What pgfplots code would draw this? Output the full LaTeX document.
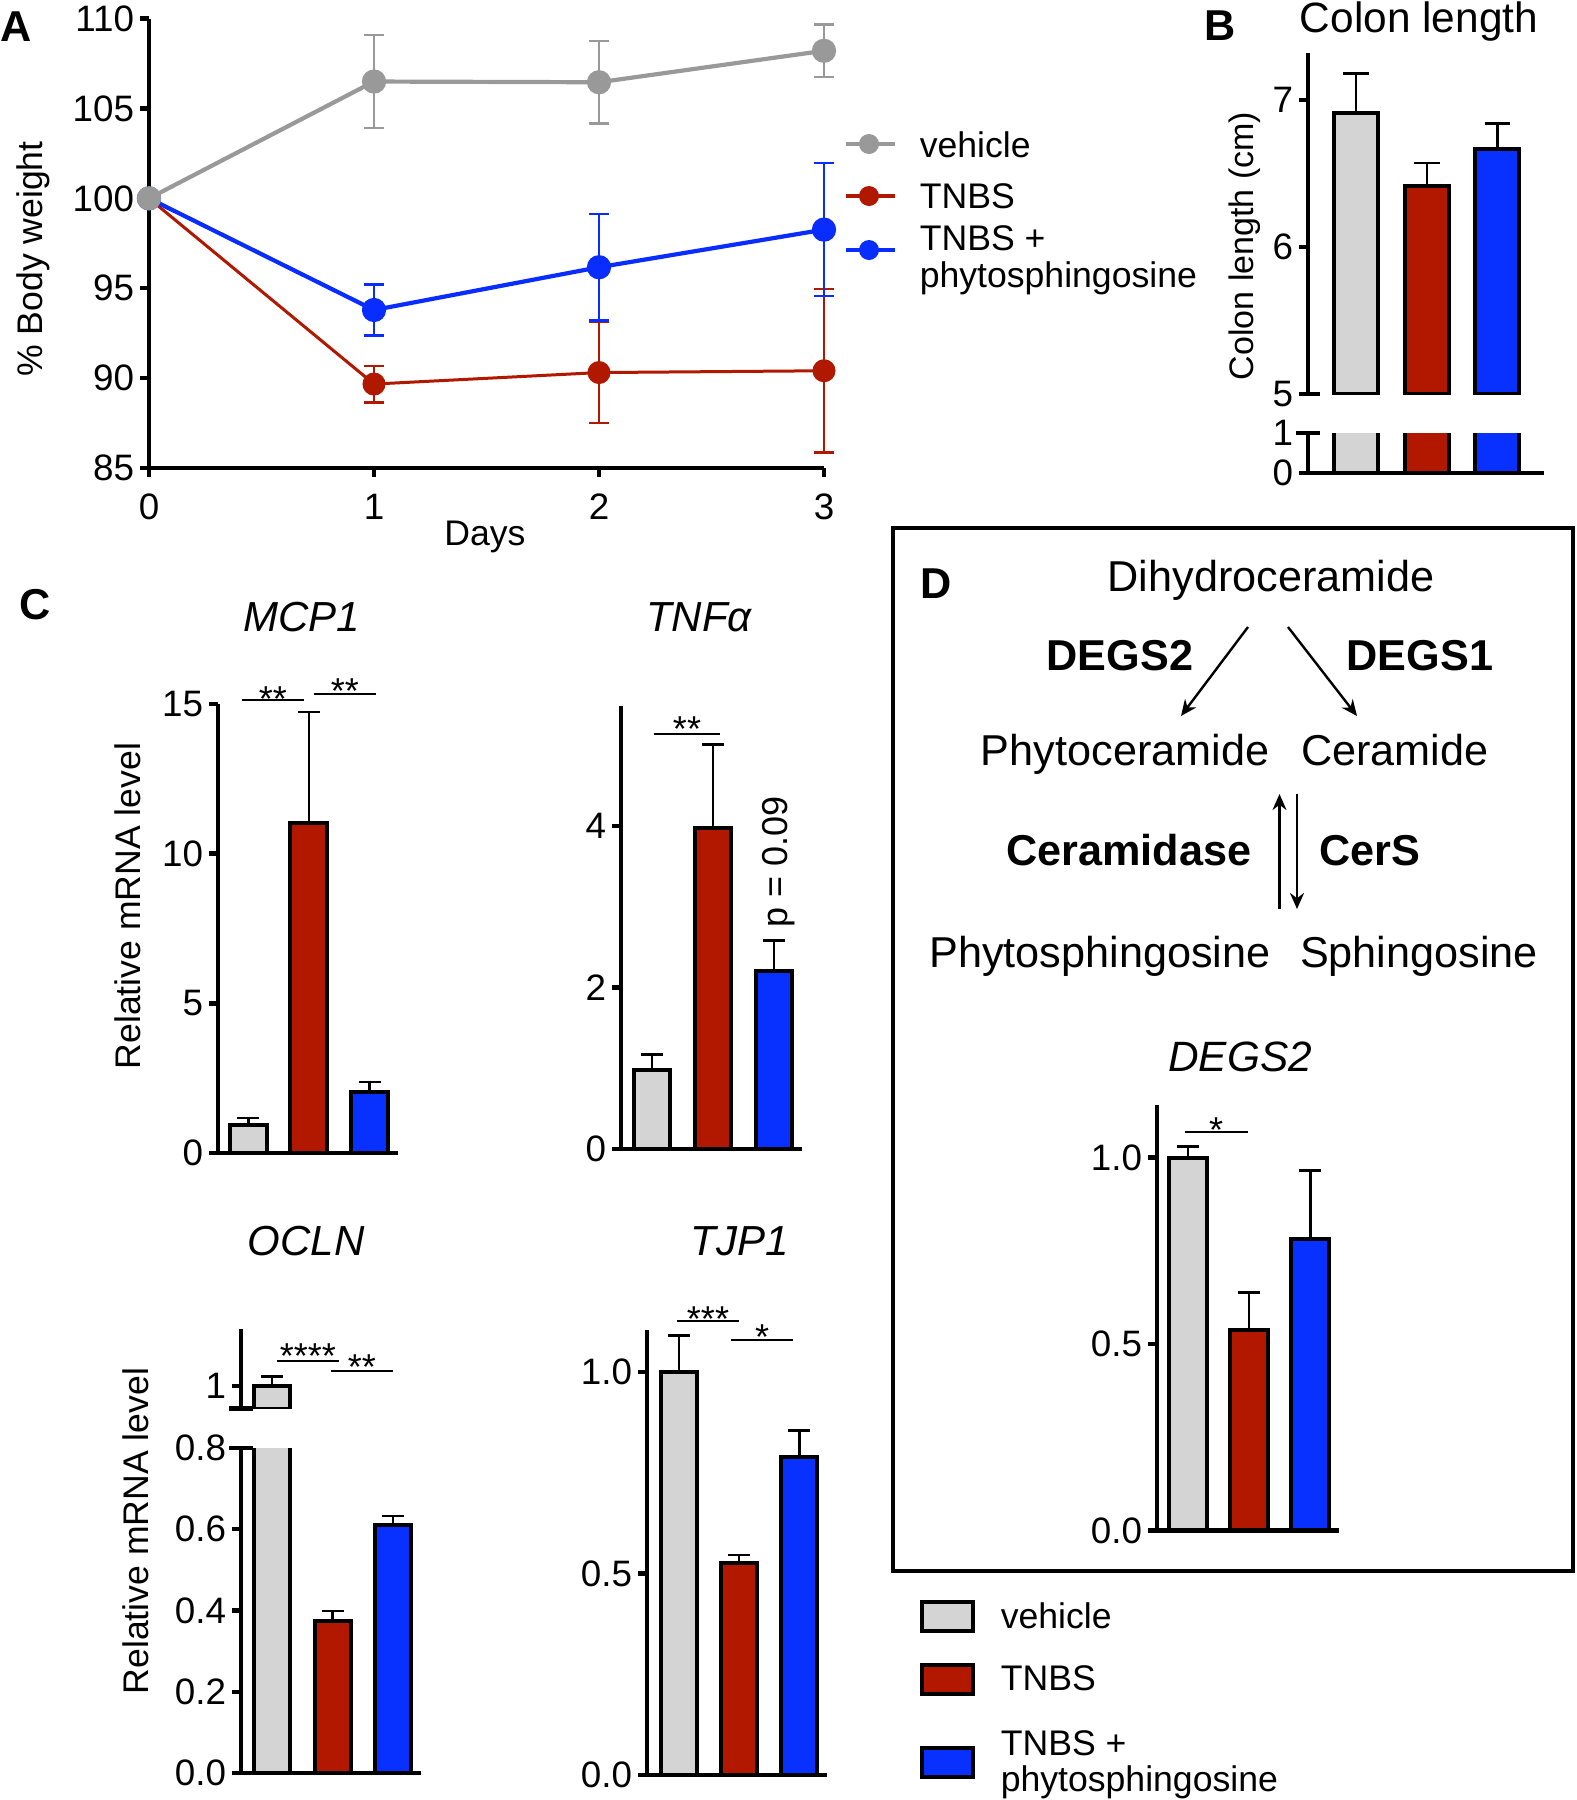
\documentclass[border=0pt]{standalone}
\usepackage{pgfplots}
\pgfplotsset{compat=1.18}
\usepackage{fontspec}
\setmainfont{Liberation Sans}
\usetikzlibrary{arrows.meta}

\definecolor{lgray}{RGB}{153,153,153}
\definecolor{lred}{RGB}{176,24,0}
\definecolor{lblue}{RGB}{10,45,255}
\definecolor{bgray}{RGB}{212,212,212}
\definecolor{bred}{RGB}{178,24,0}
\definecolor{bblue}{RGB}{8,48,255}

\newcommand{\fs}[1]{\fontsize{#1}{#1}\selectfont}

\pgfplotsset{
  panel/.style={
    scale only axis, anchor=south west, axis on top, clip mode=individual,
    axis x line=bottom, axis y line=left,
    axis line style={line width=1.1pt, -},
    every outer x axis line/.append style={-},
    every outer y axis line/.append style={-},
    xtick=\empty,
    tick align=outside, major tick length=2.2pt,
    tick style={line width=1.1pt, black},
    ticklabel style={font=\fs{9.2}},
    yticklabel style={xshift=2pt},
    xticklabel style={yshift=-0.8pt},
    /pgf/number format/assume math mode=true,
  },
  onedec/.style={yticklabel style={/pgf/number format/.cd, fixed, fixed zerofill, precision=1}},
  mybar/.style={ybar, bar shift=0pt, bar width=#1, draw=black, line width=1pt},
  errb/.style={
    error bars/y dir=plus, error bars/y explicit,
    error bars/error bar style={line width=0.6pt, black},
    error bars/error mark options={rotate=90, mark size=#1, line width=0.6pt, black}},
  errb/.default=2.75pt,
  wline/.style={color=#1, mark=*, mark size=2.5pt, mark options={fill=#1, draw=#1},
    error bars/y dir=both, error bars/y explicit,
    error bars/error bar style={line width=0.6pt, #1},
    error bars/error mark options={rotate=90, mark size=2.5pt, line width=0.6pt, #1}},
}

\begin{document}
\begin{tikzpicture}
\path[use as bounding box] (0,0) rectangle (394pt,-450pt);

% A: body weight
\begin{axis}[panel, at={(37.25pt,-117pt)}, width=168.75pt, height=112.35pt,
  clip=false, axis on top=false,
  xmin=0, xmax=3, ymin=85, ymax=110, xtick={0,1,2,3}, ytick={85,90,95,100,105,110}]
\addplot[wline=lred, line width=0.75pt]
  coordinates {(0,100) (1,89.67) +- (0,1.02) (2,90.31) +- (0,2.8) (3,90.41) +- (0,4.55)};
\addplot[wline=lblue, line width=1.05pt]
  coordinates {(0,100) (1,93.79) +- (0,1.42) (2,96.17) +- (0,2.97) (3,98.26) +- (0,3.7)};
\addplot[wline=lgray, line width=1.05pt]
  coordinates {(0,100) (1,106.5) +- (0,2.6) (2,106.46) +- (0,2.3) (3,108.21) +- (0,1.46)};
\end{axis}

% B: colon length, upper part
\begin{axis}[panel, at={(327pt,-98.5pt)}, width=59pt, height=85.25pt, axis x line=none,
  xmin=0.32, xmax=3.66, ymin=5, ymax=7.32, ytick={5,6,7}]
\addplot[mybar=11pt, fill=bgray, errb=3.2pt] coordinates {(1,6.91) +- (0,0.27)};
\addplot[mybar=11pt, fill=bred, errb=3.2pt] coordinates {(2,6.415) +- (0,0.155)};
\addplot[mybar=11pt, fill=bblue, errb=3.2pt] coordinates {(3,6.67) +- (0,0.17)};
\end{axis}
% B: lower part
\begin{axis}[panel, at={(327pt,-118.25pt)}, width=59pt, height=10pt,
  xmin=0.32, xmax=3.66, ymin=0, ymax=1, ytick={0,1}]
\addplot[mybar=11pt, fill=bgray] coordinates {(1,6.91)};
\addplot[mybar=11pt, fill=bred] coordinates {(2,6.415)};
\addplot[mybar=11pt, fill=bblue] coordinates {(3,6.67)};
\end{axis}

% C: MCP1
\begin{axis}[panel, at={(54.5pt,-288.25pt)}, width=45pt, height=112.25pt,
  xmin=0.5, xmax=3.47, ymin=0, ymax=15, ytick={0,5,10,15}]
\addplot[mybar=9.25pt, fill=bgray, errb] coordinates {(1,0.93) +- (0,0.23)};
\addplot[mybar=9.25pt, fill=bred, errb] coordinates {(2,11.03) +- (0,3.71)};
\addplot[mybar=9.25pt, fill=bblue, errb] coordinates {(3,2.05) +- (0,0.33)};
\end{axis}

% C: TNFa
\begin{axis}[panel, at={(155.25pt,-287.25pt)}, width=45.25pt, height=110.875pt,
  xmin=0.49, xmax=3.46, ymin=0, ymax=5.49, ytick={0,2,4}]
\addplot[mybar=9pt, fill=bgray, errb] coordinates {(1,0.98) +- (0,0.19)};
\addplot[mybar=9pt, fill=bred, errb] coordinates {(2,3.97) +- (0,1.04)};
\addplot[mybar=9pt, fill=bblue, errb] coordinates {(3,2.20) +- (0,0.38)};
\end{axis}

% C: OCLN, upper part
\begin{axis}[panel, at={(60.25pt,-352.125pt)}, width=45pt, height=19.875pt, axis x line=none,
  xmin=0.49, xmax=3.46, ymin=0.945, ymax=1.14, ytick={1}]
\addplot[mybar=9pt, fill=bgray, errb] coordinates {(1,1.0) +- (0,0.024)};
\end{axis}
% C: OCLN, lower part
\begin{axis}[panel, onedec, at={(60.25pt,-443.25pt)}, width=45pt, height=81.25pt,
  xmin=0.49, xmax=3.46, ymin=0, ymax=0.8, ytick={0,0.2,0.4,0.6,0.8}]
\addplot[mybar=9pt, fill=bgray] coordinates {(1,1.0)};
\addplot[mybar=9pt, fill=bred, errb] coordinates {(2,0.375) +- (0,0.024)};
\addplot[mybar=9pt, fill=bblue, errb] coordinates {(3,0.61) +- (0,0.023)};
\end{axis}

% C: TJP1
\begin{axis}[panel, onedec, at={(161.75pt,-443.75pt)}, width=45pt, height=111.375pt,
  xmin=0.47, xmax=3.46, ymin=0, ymax=1.105, ytick={0,0.5,1}]
\addplot[mybar=9pt, fill=bgray, errb] coordinates {(1,1.0) +- (0,0.09)};
\addplot[mybar=9pt, fill=bred, errb] coordinates {(2,0.525) +- (0,0.02)};
\addplot[mybar=9pt, fill=bblue, errb] coordinates {(3,0.789) +- (0,0.066)};
\end{axis}

% D: DEGS2
\begin{axis}[panel, onedec, at={(289.25pt,-382.65pt)}, width=45.5pt, height=106.475pt,
  xmin=0.49, xmax=3.47, ymin=0, ymax=1.142, ytick={0,0.5,1}]
\addplot[mybar=9.5pt, fill=bgray, errb] coordinates {(1,1.0) +- (0,0.03)};
\addplot[mybar=9.5pt, fill=bred, errb] coordinates {(2,0.538) +- (0,0.10)};
\addplot[mybar=9.5pt, fill=bblue, errb] coordinates {(3,0.783) +- (0,0.183)};
\end{axis}

\begin{scope}[x=0.25pt, y=-0.25pt]
% caps where the axes are broken
\begin{scope}[line width=1.1pt]
\draw (1300,394) -- (1320,394);
\draw (1296,433) -- (1320,433);
\draw (229,1408.5) -- (253,1408.5);
\draw (229,1448) -- (253,1448);
\end{scope}

% panel letters
\node[anchor=base west, inner sep=0, font=\fs{10.8}\bfseries] at (0,41) {A};
\node[anchor=base west, inner sep=0, font=\fs{10.8}\bfseries] at (1204,40) {B};
\node[anchor=base west, inner sep=0, font=\fs{10.8}\bfseries] at (19,619) {C};
\node[anchor=base west, inner sep=0, font=\fs{10.8}\bfseries] at (920,598) {D};

% axis titles and labels
\node[rotate=90, anchor=base, inner sep=0, font=\fs{8.9}] at (42,259) {\% Body weight};
\node[anchor=base, inner sep=0, font=\fs{8.9}] at (485,545) {Days};
\node[anchor=base, inner sep=0, font=\fs{10.6}] at (1419,32) {Colon length};
\node[rotate=90, anchor=base, inner sep=0, font=\fs{8.5}] at (1253,246) {Colon length (cm)};
\node[rotate=90, anchor=base, inner sep=0, font=\fs{8.9}] at (140,906) {Relative mRNA level};
\node[rotate=90, anchor=base, inner sep=0, font=\fs{8.9}] at (148,1531) {Relative mRNA level};
\node[anchor=base, inner sep=0, font=\fs{10.5}\itshape] at (302,631) {MCP1};
\node[anchor=base, inner sep=0, font=\fs{10.5}\itshape] at (699,631) {TNFα};
\node[anchor=base, inner sep=0, font=\fs{10.5}\itshape] at (306,1255) {OCLN};
\node[anchor=base, inner sep=0, font=\fs{10.5}\itshape] at (740,1255) {TJP1};
\node[anchor=base, inner sep=0, font=\fs{10.6}\itshape] at (1240,1071) {DEGS2};
\node[rotate=90, anchor=base, inner sep=0, font=\fs{9}] at (787,862) {p = 0.09};

% significance marks
\begin{scope}[line width=0.5pt, every node/.style={anchor=base, inner sep=0, font=\fs{9}}]
\draw (242,700) -- (304,700); \node at (273,711) {**};
\draw (314,694) -- (376,694); \node at (345,703) {**};
\draw (654,734) -- (720,734); \node at (687,741) {**};
\draw (277,1361) -- (339,1361); \node at (308,1368) {****};
\draw (331,1371) -- (393,1371); \node at (362,1379) {**};
\draw (677,1321) -- (739,1321); \node at (708,1331) {***};
\draw (731,1340) -- (793,1340); \node at (762,1349) {*};
\draw (1185,1132) -- (1248,1132); \node at (1216,1142) {*};
\end{scope}

% legend of A
\foreach \c/\y in {lgray/144, lred/196, lblue/250} {
  \draw[\c, line width=1.05pt] (846,\y) -- (895,\y);
  \fill[\c] (869,\y) circle[radius=2.5pt];
}
\begin{scope}[every node/.style={anchor=base west, inner sep=0, font=\fs{8.9}}]
\node at (919,157) {vehicle};
\node at (919,208) {TNBS};
\node at (919,250) {TNBS +};
\node at (919,287) {phytosphingosine};
\end{scope}

% D: pathway scheme
\draw[line width=0.8pt] (893,528) rectangle (1573,1571);
\begin{scope}[every node/.style={anchor=base, inner sep=0, font=\fs{10.8}}]
\node at (1271,591) {Dihydroceramide};
\node[font=\fs{10.8}\bfseries] at (1120,670) {DEGS2};
\node[font=\fs{10.8}\bfseries] at (1420,670) {DEGS1};
\node at (1125,765) {Phytoceramide};
\node at (1395,765) {Ceramide};
\node[font=\fs{10.8}\bfseries] at (1129,865) {Ceramidase};
\node[font=\fs{10.8}\bfseries] at (1370,865) {CerS};
\node at (1100,967) {Phytosphingosine};
\node at (1419,967) {Sphingosine};
\end{scope}
\begin{scope}[line width=0.6pt, -{Stealth[length=4pt, width=3.5pt]}]
\draw (1248,627) -- (1181,716);
\draw (1288,627) -- (1357,716);
\draw (1279.5,909) -- (1279.5,794);
\draw (1297,794) -- (1297,909);
\end{scope}

% legend of bars
\foreach \c/\y in {bgray/1602, bred/1665, bblue/1748} {
  \draw[line width=1.1pt, fill=\c] (922,\y) rectangle (973,\y+29);
}
\begin{scope}[every node/.style={anchor=base west, inner sep=0, font=\fs{8.9}}]
\node at (1000,1628) {vehicle};
\node at (1000,1690) {TNBS};
\node at (1000,1755) {TNBS +};
\node at (1000,1791) {phytosphingosine};
\end{scope}
\end{scope}
\end{tikzpicture}
\end{document}
